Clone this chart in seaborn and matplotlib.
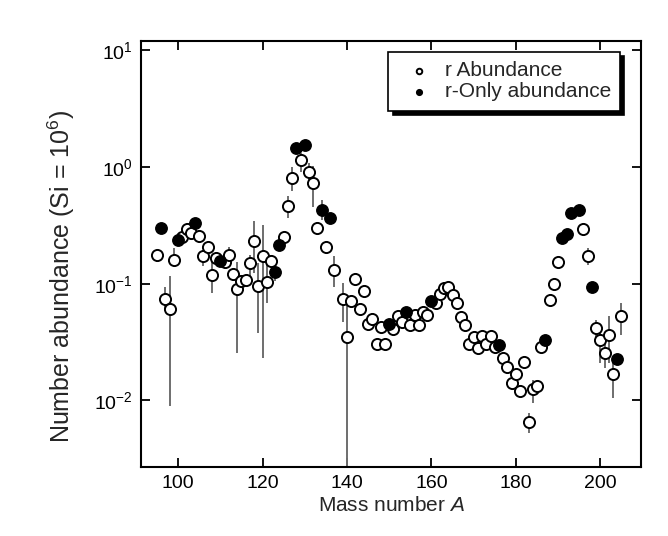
import numpy as np
import pandas as pd
import seaborn as sns
import matplotlib
matplotlib.use("Agg")
import matplotlib.pyplot as plt
from matplotlib.ticker import FixedLocator, NullLocator

# ---- data ----
r_mass = [95, 97, 98, 99, 101, 102, 103, 105, 106, 107, 108, 109, 111, 112, 113,
          114, 115, 116, 117, 118, 119, 120, 121, 122, 125, 126, 127, 129, 131, 132,
          133, 135, 137, 139, 140, 141, 142, 143, 144, 145, 146, 147, 148, 149, 151,
          152, 153, 155, 156, 157, 158, 159, 161, 162, 163, 164, 165, 166, 167, 168,
          169, 170, 171, 172, 173, 174, 175, 177, 178, 179, 180, 181, 182, 183, 184,
          185, 186, 188, 189, 190, 196, 197, 199, 200, 201, 202, 203, 205]
r_abund = [0.177, 0.0744, 0.061, 0.161, 0.251, 0.296, 0.272, 0.258, 0.172, 0.205,
           0.119, 0.165, 0.155, 0.177, 0.122, 0.0906, 0.105, 0.108, 0.150, 0.233,
           0.096, 0.174, 0.103, 0.157, 0.251, 0.466, 0.805, 1.155, 0.906, 0.729,
           0.298, 0.206, 0.132, 0.0744, 0.0353, 0.0706, 0.110, 0.061, 0.0866, 0.0454,
           0.050, 0.0304, 0.043, 0.0304, 0.0409, 0.0532, 0.047, 0.0446, 0.0542, 0.0446,
           0.0572, 0.054, 0.0684, 0.082, 0.0918, 0.093, 0.0805, 0.069, 0.052, 0.0442,
           0.0306, 0.0347, 0.0281, 0.0358, 0.0306, 0.0358, 0.029, 0.0233, 0.0195, 0.0141,
           0.0169, 0.012, 0.0212, 0.00656, 0.0125, 0.0132, 0.029, 0.073, 0.100, 0.153,
           0.297, 0.172, 0.042, 0.033, 0.0253, 0.0363, 0.0169, 0.0528]

ronly_mass = [96, 100, 104, 110, 123, 124, 128, 130, 134, 136, 150, 154, 160, 176,
              187, 191, 192, 193, 195, 198, 204]
ronly_abund = [0.303, 0.237, 0.331, 0.157, 0.125, 0.216, 1.46, 1.55, 0.431, 0.363,
               0.0454, 0.0572, 0.0706, 0.030, 0.033, 0.247, 0.267, 0.403, 0.430,
               0.093, 0.0226]

err_mass = [95, 97, 98, 99, 106, 108, 112, 114, 117, 118, 119, 120, 121, 123, 126,
            127, 129, 131, 132, 134, 137, 139, 140, 183, 184, 185, 197, 199, 200,
            201, 202, 203, 205]
err_low = [0.155, 0.0598, 0.0089, 0.141, 0.141, 0.0832, 0.141, 0.0255, 0.116, 0.124,
           0.038, 0.0231, 0.0684, 0.105, 0.366, 0.618, 0.916, 0.729, 0.459, 0.353,
           0.0948, 0.0475, 0.001, 0.00526, 0.0095, 0.0116, 0.146, 0.0353, 0.0209,
           0.019, 0.0209, 0.0105, 0.0366]
err_high = [0.195, 0.0937, 0.116, 0.202, 0.195, 0.155, 0.208, 0.155, 0.177, 0.342,
            0.150, 0.321, 0.161, 0.148, 0.560, 1.01, 1.32, 1.08, 1.02, 0.525,
            0.174, 0.101, 0.073, 0.0078, 0.0150, 0.0146, 0.202, 0.0492, 0.0378,
            0.031, 0.0525, 0.0238, 0.0684]

x_ticks = [100, 120, 140, 160, 180, 200]
y_ticks = [1e-2, 1e-1, 1e0, 1e1]
y_tick_labels = ["$10^{-2}$", "$10^{-1}$", "$10^{0}$", "$10^{1}$"]
series_names = ["r Abundance", "r-Only abundance"]

# ---- style ----
sns.set_style("ticks")
plt.rcParams["font.family"] = ["Liberation Sans", "DejaVu Sans"]
plt.rcParams["mathtext.fontset"] = "custom"
plt.rcParams["mathtext.rm"] = "Liberation Sans"
plt.rcParams["mathtext.it"] = "Liberation Sans:italic"
plt.rcParams["mathtext.default"] = "regular"

fig = plt.figure(figsize=(6.68, 5.36), dpi=100)
ax = fig.add_axes([0.211, 0.129, 0.749, 0.795])

df_r = pd.DataFrame({"A": r_mass, "abund": r_abund})
df_o = pd.DataFrame({"A": ronly_mass, "abund": ronly_abund})

ax.vlines(err_mass, err_low, err_high, color="#6e6e6e", lw=1.4, zorder=1)

sns.scatterplot(data=df_r, x="A", y="abund", ax=ax, marker="o", s=64,
                color="white", edgecolor="black", linewidth=1.4,
                label=series_names[0], zorder=3)
sns.scatterplot(data=df_o, x="A", y="abund", ax=ax, marker="o", s=68,
                color="black", edgecolor="black", linewidth=1.0,
                label=series_names[1], zorder=4)

ax.set_yscale("log")
ax.set_xlim(91.2, 209.7)
ax.set_ylim(0.0027, 12.1)
ax.xaxis.set_major_locator(FixedLocator(x_ticks))
ax.set_xticklabels([str(t) for t in x_ticks])
ax.yaxis.set_major_locator(FixedLocator(y_ticks))
ax.yaxis.set_minor_locator(NullLocator())
ax.set_yticklabels(y_tick_labels)

for s in ax.spines.values():
    s.set_visible(True)
    s.set_linewidth(1.5)
    s.set_color("black")
ax.tick_params(axis="both", which="major", direction="in", length=6.5, width=1.3,
               top=True, right=True, labelsize=14, pad=6, colors="black")

ax.set_xlabel("Mass number $\\it{A}$", fontsize=15, labelpad=3)
ax.set_ylabel("Number abundance (Si = $10^{6}$)", fontsize=18)
ax.yaxis.set_label_coords(-0.127, 0.446)

leg = ax.legend(loc="upper right", bbox_to_anchor=(0.958, 0.974), fontsize=15,
                frameon=True, fancybox=False,
                shadow={"color": "black", "alpha": 1, "ox": 3, "oy": -3},
                edgecolor="black", framealpha=1, markerscale=0.5,
                handletextpad=0.25, borderpad=0.45, labelspacing=0.1,
                handlelength=2.0, borderaxespad=0)
leg.get_frame().set_linewidth(1.2)

fig.savefig("out.png", dpi=100, facecolor="white")
